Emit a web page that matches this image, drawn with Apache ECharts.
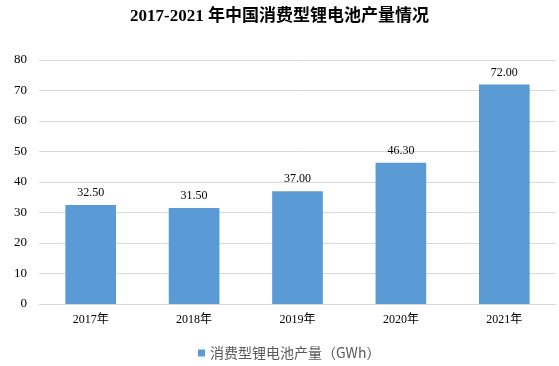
<!DOCTYPE html>
<html><head><meta charset="utf-8">
<script src="https://cdn.jsdelivr.net/npm/echarts@6/dist/echarts.min.js"></script>
<style>html,body{margin:0;padding:0;background:#fff}#c{width:559px;height:366px}</style>
</head><body><div id="c"></div>
<script>
var categories = ['2017年','2018年','2019年','2020年','2021年'];
var values = [32.5, 31.5, 37.0, 46.3, 72.0];
var seriesName = '消费型锂电池产量（GWh）';
var titleText = '2017-2021 年中国消费型锂电池产量情况';
var chart = echarts.init(document.getElementById('c'), null, {renderer:'canvas'});
chart.setOption({
  animation:false,
  title:{text:titleText,left:'center',top:3,
    textStyle:{fontFamily:'"Liberation Serif","Noto Sans CJK SC",serif',fontWeight:'bold',fontSize:17,color:'#000'}},
  grid:{left:39,right:3,top:60,bottom:62},
  legend:{bottom:1,left:193,itemWidth:7,itemHeight:7,icon:'rect',itemGap:4,
    textStyle:{fontFamily:'"Noto Sans CJK SC",sans-serif',fontSize:14,color:'#595959'}},
  xAxis:{type:'category',data:categories,
    axisLine:{lineStyle:{color:'#d9d9d9'}},axisTick:{show:false},
    axisLabel:{fontFamily:'"Liberation Serif","Noto Sans CJK SC",serif',fontSize:12,color:'#000',margin:10}},
  yAxis:{type:'value',min:0,max:80,interval:10,
    axisLine:{show:false},axisTick:{show:false},
    splitLine:{lineStyle:{color:'#d9d9d9'}},
    axisLabel:{fontFamily:'"Liberation Serif",serif',fontSize:13,color:'#000',margin:12}},
  series:[{name:seriesName,type:'bar',data:values,barWidth:'49%',
    itemStyle:{color:'#5b9bd5'},
    label:{show:true,position:'top',distance:6,formatter:function(p){return p.value.toFixed(2);},
      fontFamily:'"Liberation Serif",serif',fontSize:12,color:'#000'}}]
});
</script></body></html>
